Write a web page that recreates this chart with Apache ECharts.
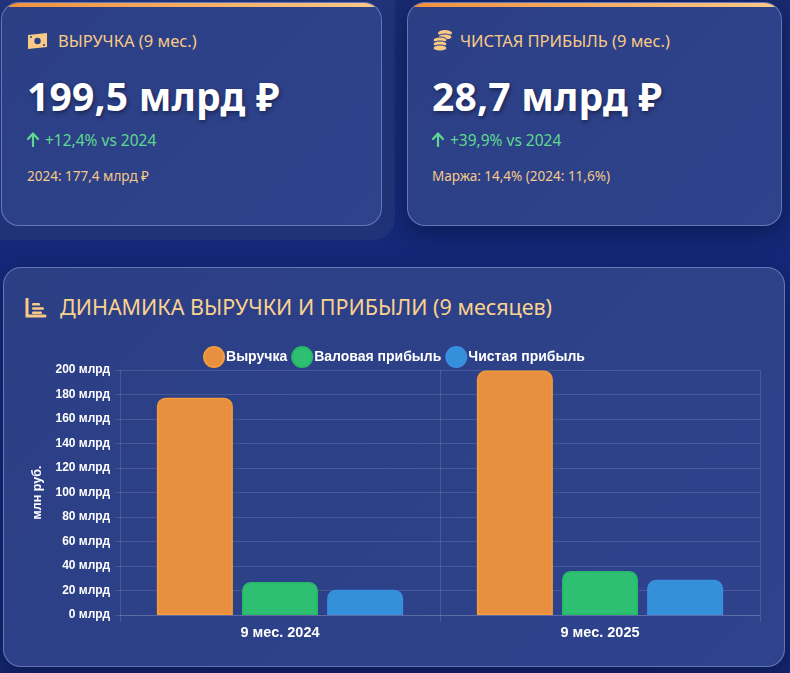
<!DOCTYPE html>
<html>
<head>
<meta charset="utf-8">
<script src="https://cdn.jsdelivr.net/npm/echarts@6/dist/echarts.min.js"></script>
<style>
html,body{margin:0;padding:0;width:790px;height:673px;overflow:hidden;}
body{background:linear-gradient(180deg,#182a70 0%,#13287a 45%,#142670 100%);font-family:"Noto Sans","Open Sans",sans-serif;position:relative;}
.halo{position:absolute;left:0;top:0;width:395px;height:240px;background:#213378;border-radius:0 0 22px 0;}
.card{position:absolute;background:linear-gradient(135deg,#2c3f85 0%,#2e438c 100%);border:1px solid rgba(170,185,240,0.45);border-radius:18px;overflow:hidden;box-sizing:border-box;}
.card .bar{position:absolute;left:0;top:0;right:0;height:4px;background:linear-gradient(90deg,#f0913d,#f9c98a);}
.shadow{box-shadow:0 8px 22px rgba(8,18,60,0.55);}
.ttl{position:absolute;font-size:16.5px;color:#f8ca85;white-space:nowrap;}
.big{position:absolute;font-size:39px;font-weight:700;color:#ffffff;white-space:nowrap;text-shadow:1px 2px 4px rgba(0,0,20,0.45);letter-spacing:0.2px;}
.chg{position:absolute;font-size:15.5px;color:#5fd88f;white-space:nowrap;}
.foot{position:absolute;font-size:13.5px;color:#f5c98a;white-space:nowrap;}
.icon{position:absolute;}
#chart{position:absolute;left:3px;top:335px;width:782px;height:330px;}
.ctitle{position:absolute;font-size:21.5px;color:#f9d290;white-space:nowrap;}
</style>
</head>
<body>
<div class="halo"></div>
<div class="card" style="left:1px;top:2px;width:381px;height:224px;">
  <div class="bar"></div>
  <svg class="icon" style="left:25px;top:30px" width="21" height="16" viewBox="0 0 21 16">
    <path d="M1 2 L20 0 L20 14 L1 16 Z" fill="#f8ca85"/>
    <circle cx="10.5" cy="8" r="3.2" fill="#2c3f85"/>
    <circle cx="4" cy="4" r="1" fill="#2c3f85"/><circle cx="17" cy="12" r="1" fill="#2c3f85"/>
  </svg>
  <div class="ttl" style="left:56px;top:26px;">ВЫРУЧКА (9 мес.)</div>
  <div class="big" style="left:25px;top:66px;">199,5 млрд ₽</div>
  <svg class="icon" style="left:25px;top:129px" width="12" height="15" viewBox="0 0 12 15">
    <path d="M6 14 V2 M1 7 L6 1.5 L11 7" fill="none" stroke="#5fd88f" stroke-width="2.2" stroke-linecap="round" stroke-linejoin="round"/>
  </svg>
  <div class="chg" style="left:43px;top:126px;">+12,4% vs 2024</div>
  <div class="foot" style="left:25px;top:164px;">2024: 177,4 млрд ₽</div>
</div>
<div class="card shadow" style="left:407px;top:2px;width:375px;height:224px;">
  <div class="bar"></div>
  <svg class="icon" style="left:24px;top:26px" width="22" height="22" viewBox="0 0 22 22">
    <ellipse cx="13" cy="4" rx="7" ry="3" fill="#f8ca85"/>
    <ellipse cx="13" cy="8" rx="7" ry="3" fill="#f8ca85" stroke="#2c3f85" stroke-width="1"/>
    <ellipse cx="8" cy="11" rx="7" ry="3" fill="#f8ca85" stroke="#2c3f85" stroke-width="1"/>
    <ellipse cx="8" cy="15" rx="7" ry="3" fill="#f8ca85" stroke="#2c3f85" stroke-width="1"/>
    <ellipse cx="8" cy="19" rx="7" ry="3" fill="#f8ca85" stroke="#2c3f85" stroke-width="1"/>
  </svg>
  <div class="ttl" style="left:52px;top:26px;">ЧИСТАЯ ПРИБЫЛЬ (9 мес.)</div>
  <div class="big" style="left:24px;top:66px;">28,7 млрд ₽</div>
  <svg class="icon" style="left:24px;top:129px" width="12" height="15" viewBox="0 0 12 15">
    <path d="M6 14 V2 M1 7 L6 1.5 L11 7" fill="none" stroke="#5fd88f" stroke-width="2.2" stroke-linecap="round" stroke-linejoin="round"/>
  </svg>
  <div class="chg" style="left:42px;top:126px;">+39,9% vs 2024</div>
  <div class="foot" style="left:24px;top:164px;">Маржа: 14,4% (2024: 11,6%)</div>
</div>
<div class="card shadow" style="left:3px;top:267px;width:782px;height:400px;">
  <svg class="icon" style="left:21px;top:30px" width="22" height="20" viewBox="0 0 22 20">
    <path d="M2 1 V18 H20" fill="none" stroke="#f8ca85" stroke-width="3" stroke-linecap="round"/>
    <rect x="7" y="5" width="8" height="2.6" rx="1.2" fill="#f8ca85"/>
    <rect x="7" y="9.2" width="12" height="2.6" rx="1.2" fill="#f8ca85"/>
    <rect x="7" y="13.4" width="10" height="2.6" rx="1.2" fill="#f8ca85"/>
  </svg>
  <div class="ctitle" style="left:56px;top:24px;">ДИНАМИКА ВЫРУЧКИ И ПРИБЫЛИ (9 месяцев)</div>
</div>
<div id="chart"></div>
<script>
var categories = ['9 мес. 2024', '9 мес. 2025'];
var revenue = [177.4, 199.5];
var grossProfit = [27.0, 35.9];
var netProfit = [20.6, 28.7];
var yTicks = [0, 20, 40, 60, 80, 100, 120, 140, 160, 180, 200];
var seriesNames = ['Выручка', 'Валовая прибыль', 'Чистая прибыль'];

var chart = echarts.init(document.getElementById('chart'), null, {renderer: 'canvas'});
var fam = '"Liberation Sans", Arial, sans-serif';
var gridColor = 'rgba(255,255,255,0.12)';
function bar(name, data, color, border) {
  return {
    name: name, type: 'bar', data: data, barWidth: 76, barGap: '12%',
    itemStyle: {color: color, borderColor: border, borderWidth: 1.5, borderRadius: [8, 8, 0, 0]}
  };
}
chart.setOption({
  backgroundColor: 'transparent',
  animation: false,
  legend: {
    top: 6, left: 'center', itemWidth: 20, itemHeight: 20, itemGap: 4, icon: 'circle',
    data: seriesNames,
    textStyle: {color: '#ffffff', fontFamily: fam, fontWeight: 'bold', fontSize: 14, padding: [0, 0, 0, -3]}
  },
  grid: {left: 117, top: 35, width: 640, height: 245, containLabel: false},
  xAxis: {
    type: 'category', data: categories,
    axisLine: {show: true, lineStyle: {color: gridColor}},
    axisTick: {show: true, length: 7, lineStyle: {color: gridColor}},
    splitLine: {show: true, lineStyle: {color: gridColor}},
    axisLabel: {margin: 10, fontSize: 14.5, color: '#ffffff', fontFamily: fam, fontWeight: 'bold'}
  },
  yAxis: {
    type: 'value', min: 0, max: 200, interval: 20,
    name: 'млн руб.', nameLocation: 'middle', nameGap: 76, nameRotate: 90,
    nameTextStyle: {color: '#ffffff', fontFamily: fam, fontWeight: 'bold', fontSize: 12.5},
    axisLine: {show: false},
    axisTick: {show: true, length: 5, lineStyle: {color: gridColor}},
    splitLine: {show: true, lineStyle: {color: gridColor}},
    axisLabel: {margin: 10, fontSize: 12, color: '#ffffff', fontFamily: fam, fontWeight: 'bold',
      formatter: function (v) { return yTicks.indexOf(v) >= 0 ? v + ' млрд' : ''; }}
  },
  series: [
    bar(seriesNames[0], revenue, '#e8903f', '#f39a3c'),
    bar(seriesNames[1], grossProfit, '#2ec072', '#27b868'),
    bar(seriesNames[2], netProfit, '#3490d8', '#3a8ee0')
  ]
});
</script>
</body>
</html>
